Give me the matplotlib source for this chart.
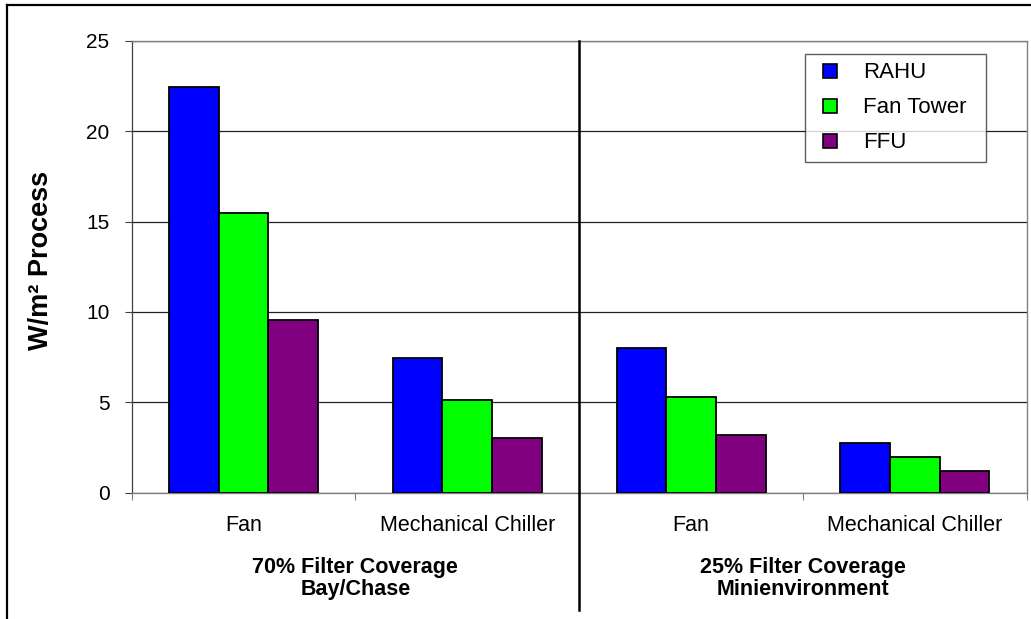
import numpy as np
import matplotlib
matplotlib.use('Agg')
import matplotlib.pyplot as plt
from matplotlib.lines import Line2D

plt.rcParams['font.family'] = ['Liberation Sans', 'DejaVu Sans']

# Datos
categorias = ['Fan', 'Mechanical Chiller', 'Fan', 'Mechanical Chiller']
grupos = ['70% Filter Coverage\nBay/Chase', '25% Filter Coverage\nMinienvironment']
series = ['RAHU', 'Fan Tower', 'FFU']
rahu = [22.45, 7.45, 8.03, 2.73]
fan_tower = [15.47, 5.11, 5.3, 1.99]
ffu = [9.54, 3.03, 3.19, 1.22]
colores = ['#0000FF', '#00FF00', '#800080']

fig = plt.figure(figsize=(10.31, 6.19), dpi=100)
ax = fig.add_axes([0.1277, 0.204, 0.8681, 0.7302])

x = np.arange(len(categorias)) + 0.5
ancho = 0.222
for i, (nombre, valores) in enumerate(zip(series, [rahu, fan_tower, ffu])):
    ax.bar(x + (i - 1) * ancho, valores, ancho, color=colores[i],
           edgecolor='black', linewidth=1.3, label=nombre, zorder=3)

ax.set_xlim(0, 4)
ax.set_ylim(0, 25)
ax.set_yticks(np.arange(0, 26, 5))
ax.tick_params(axis='y', direction='out', length=5, width=0.8, color='#404040',
               pad=11, labelsize=15)

# ticks mayores en los limites de categoria, etiquetas en los menores
ax.set_xticks(np.arange(0, 5))
ax.set_xticklabels([])
ax.set_xticks(x, minor=True)
ax.set_xticklabels(categorias, minor=True)
ax.tick_params(axis='x', which='major', direction='out', length=5, width=0.8, color='#808080')
ax.tick_params(axis='x', which='minor', length=0, pad=16, labelsize=15.5)

ax.yaxis.grid(True, color='#222222', linewidth=0.9, zorder=0)
ax.set_axisbelow(True)
for lado in ['top', 'right', 'bottom']:
    ax.spines[lado].set_color('#808080')
    ax.spines[lado].set_linewidth(1.0)
ax.spines['left'].set_color('#404040')
ax.spines['left'].set_linewidth(0.9)

ax.set_ylabel('W/m² Process', fontsize=19.5, fontweight='bold')
ax.yaxis.set_label_coords(-0.087, 0.515)

# etiquetas de grupo
for i, g in enumerate(grupos):
    ax.text(2 * i + 1, -0.19, g, transform=ax.get_xaxis_transform(), ha='center',
            va='center', fontsize=15.5, fontweight='bold', linespacing=1.05)

# linea divisoria entre grupos
ax.axvline(2, ymin=-0.26, ymax=1, color='black', linewidth=1.8, clip_on=False, zorder=4)

# leyenda con cuadros pequenos
handles = [Line2D([], [], linestyle='none', marker='s', markersize=10,
                  markerfacecolor=c, markeredgecolor='black', markeredgewidth=1.2)
           for c in colores]
leg = ax.legend(handles, series, loc='upper left',
                bbox_to_anchor=(805 / 1031, 1 - 54 / 619, 181 / 1031, 0),
                bbox_transform=fig.transFigure, mode='expand', fontsize=16,
                frameon=True, fancybox=False, edgecolor='#333333',
                handlelength=1.5, handletextpad=0.75, labelspacing=0.63,
                borderpad=0.38, borderaxespad=0)
leg.get_frame().set_linewidth(1.0)

# marco del grafico
fig.add_artist(Line2D([7 / 1031, 7 / 1031], [0, 1 - 5 / 619], color='black', linewidth=1.6))
fig.add_artist(Line2D([7 / 1031, 1], [1 - 5 / 619, 1 - 5 / 619], color='black', linewidth=1.6))

fig.savefig('out.png', dpi=100)
